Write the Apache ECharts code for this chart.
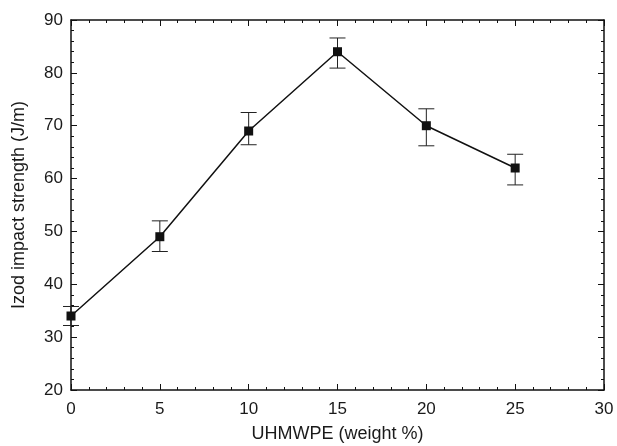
<!DOCTYPE html>
<html>
<head>
<meta charset="utf-8">
<script src="https://cdn.jsdelivr.net/npm/echarts@6/dist/echarts.min.js"></script>
<style>
  html, body { margin: 0; padding: 0; background: #fff; }
  #chart { width: 617px; height: 446px; }
</style>
</head>
<body>
<div id="chart"></div>
<script>
// values
const loading = [0, 5, 10, 15, 20, 25];
const strength = [34, 49, 69, 84, 70, 62];
const errLow = [32.2, 46.2, 66.4, 80.9, 66.2, 58.8];
const errHigh = [35.8, 52, 72.5, 86.6, 73.2, 64.6];

const xTicks = [0, 5, 10, 15, 20, 25, 30];
const yTicks = [20, 30, 40, 50, 60, 70, 80, 90];

const chart = echarts.init(document.getElementById('chart'));

const font = { fontFamily: 'Liberation Sans, Arial, sans-serif', color: '#1a1a1a' };
const axisLine = { show: true, onZero: false, lineStyle: { color: '#111', width: 1.5 } };

function frameAxis(extra) {
    return Object.assign({
        type: 'value',
        axisLine: axisLine,
        axisTick: { show: true, inside: true, length: 6, lineStyle: { color: '#111', width: 1 } },
        minorTick: { show: true, splitNumber: 5, length: 3, lineStyle: { color: '#111', width: 1 } },
        splitLine: { show: false }
    }, extra);
}

const errData = loading.map((x, i) => [x, errLow[i], errHigh[i]]);

chart.setOption({
    animation: false,
    grid: { left: 71, right: 13, top: 20, bottom: 56, outerBoundsMode: 'none' },
    xAxis: [
        frameAxis({
            min: xTicks[0], max: xTicks[xTicks.length - 1], interval: 5,
            name: 'UHMWPE (weight %)', nameLocation: 'middle', nameGap: 35,
            nameTextStyle: Object.assign({ fontSize: 18 }, font),
            axisLabel: Object.assign({ fontSize: 17, margin: 11 }, font)
        }),
        frameAxis({
            position: 'top', min: 0, max: 30, interval: 5,
            axisLabel: { show: false }
        })
    ],
    yAxis: [
        frameAxis({
            min: yTicks[0], max: yTicks[yTicks.length - 1], interval: 10,
            name: 'Izod impact strength (J/m)', nameLocation: 'middle', nameGap: 43,
            nameTextStyle: Object.assign({ fontSize: 18 }, font),
            axisLabel: Object.assign({ fontSize: 17, margin: 8 }, font)
        }),
        frameAxis({
            position: 'right', min: 20, max: 90, interval: 10,
            axisLabel: { show: false }
        })
    ],
    series: [
        {
            type: 'custom',
            z: 1,
            data: errData,
            renderItem: function (params, api) {
                const x = api.value(0);
                const lo = api.coord([x, api.value(1)]);
                const hi = api.coord([x, api.value(2)]);
                const half = 8;
                const style = { stroke: '#222', lineWidth: 1 };
                return {
                    type: 'group',
                    children: [
                        { type: 'line', shape: { x1: lo[0], y1: lo[1], x2: hi[0], y2: hi[1] }, style: style },
                        { type: 'line', shape: { x1: lo[0] - half, y1: lo[1], x2: lo[0] + half, y2: lo[1] }, style: style },
                        { type: 'line', shape: { x1: hi[0] - half, y1: hi[1], x2: hi[0] + half, y2: hi[1] }, style: style }
                    ]
                };
            }
        },
        {
            type: 'line',
            z: 2,
            data: loading.map((x, i) => [x, strength[i]]),
            symbol: 'rect',
            symbolSize: 9,
            itemStyle: { color: '#111' },
            lineStyle: { color: '#111', width: 1.5 }
        }
    ]
});
</script>
</body>
</html>
